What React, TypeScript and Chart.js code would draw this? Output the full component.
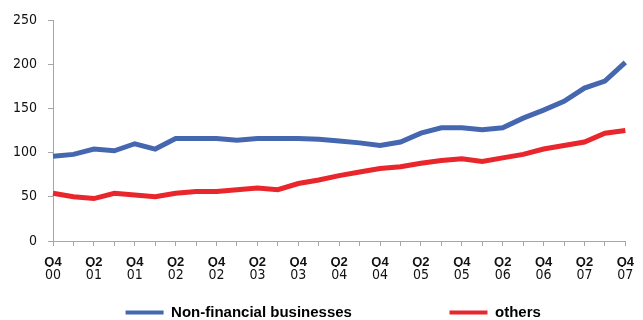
import { useEffect, useRef } from 'react';
import { Chart, registerables } from 'chart.js';
Chart.register(...registerables);

const categories = [
  'Q4 00', 'Q1 01', 'Q2 01', 'Q3 01', 'Q4 01', 'Q1 02', 'Q2 02', 'Q3 02', 'Q4 02',
  'Q1 03', 'Q2 03', 'Q3 03', 'Q4 03', 'Q1 04', 'Q2 04', 'Q3 04', 'Q4 04',
  'Q1 05', 'Q2 05', 'Q3 05', 'Q4 05', 'Q1 06', 'Q2 06', 'Q3 06', 'Q4 06',
  'Q1 07', 'Q2 07', 'Q3 07', 'Q4 07',
];
const nonFinancial = [96, 98, 104, 102, 110, 104, 116, 116, 116, 114, 116, 116, 116, 115, 113, 111, 108, 112, 122, 128, 128, 126, 128, 139, 148, 158, 173, 181, 202];
const others = [54, 50, 48, 54, 52, 50, 54, 56, 56, 58, 60, 58, 65, 69, 74, 78, 82, 84, 88, 91, 93, 90, 94, 98, 104, 108, 112, 122, 125];
const seriesNames = ['Non-financial businesses', 'others'];
const yTicks = [0, 50, 100, 150, 200, 250];

const BLUE = '#4467B0';
const RED = '#E8262B';
const GRAY = '#A6A6A6';
const COND = '"DejaVu Sans Condensed", "Liberation Sans Narrow", sans-serif';
const BOLD = '"Liberation Sans", Arial, sans-serif';

export default function App() {
  const ref = useRef<HTMLCanvasElement | null>(null);
  useEffect(() => {
    if (!ref.current) return;
    const chart = new Chart(ref.current, {
      type: 'line',
      data: {
        labels: categories,
        datasets: [
          { label: seriesNames[0], data: nonFinancial, borderColor: BLUE, backgroundColor: BLUE, borderWidth: 5, pointRadius: 0, tension: 0, xAxisID: 'x' },
          { label: seriesNames[1], data: others, borderColor: RED, backgroundColor: RED, borderWidth: 5, pointRadius: 0, tension: 0, xAxisID: 'x' },
        ],
      },
      options: {
        animation: false,
        responsive: false,
        maintainAspectRatio: false,
        devicePixelRatio: 1,
        layout: { padding: { top: 20, right: 13, left: 0, bottom: 0 } },
        plugins: {
          tooltip: { enabled: false },
          legend: {
            position: 'bottom',
            align: 'end',
            labels: {
              boxWidth: 38,
              boxHeight: 4,
              padding: 10,
              color: '#111',
              font: { family: BOLD, size: 15, weight: 'bold' },
              generateLabels: (ch: any) =>
                ch.data.datasets.map((ds: any, i: number) => ({
                  text: ds.label + '\u00A0'.repeat(i === 0 ? 21 : 19),
                  fillStyle: ds.borderColor,
                  strokeStyle: ds.borderColor,
                  lineWidth: 0,
                  hidden: false,
                  datasetIndex: i,
                })),
            },
          },
        },
        scales: {
          x: {
            type: 'category',
            position: 'bottom',
            offset: false,
            afterFit: (s: any) => { s.height = 26; },
            border: { display: true, color: GRAY, width: 1 },
            grid: { display: true, drawOnChartArea: false, drawTicks: true, tickLength: 5, color: GRAY },
            ticks: {
              autoSkip: false,
              maxRotation: 0,
              padding: 9,
              color: '#111',
              font: { family: BOLD, size: 13, weight: 'bold' },
              callback: (_v: any, i: number) => (i % 2 === 0 ? categories[i].split(' ')[0] : ''),
            },
          },
          x2: {
            type: 'category',
            position: 'bottom',
            offset: false,
            afterFit: (s: any) => { s.height = 28; },
            border: { display: false },
            grid: { display: false, drawTicks: false },
            ticks: {
              autoSkip: false,
              maxRotation: 0,
              padding: 0,
              color: '#111',
              font: { family: COND, size: 14 },
              callback: (_v: any, i: number) => (i % 2 === 0 ? categories[i].split(' ')[1] : ''),
            },
          },
          y: {
            min: 0,
            max: 250,
            afterFit: (s: any) => { s.width = 53; },
            afterBuildTicks: (s: any) => { s.ticks = yTicks.map((v) => ({ value: v })); },
            border: { display: true, color: GRAY, width: 1 },
            grid: { display: true, drawOnChartArea: false, drawTicks: true, tickLength: 5, color: GRAY },
            ticks: {
              padding: 11,
              color: '#111',
              font: { family: COND, size: 14 },
            },
          },
        },
      },
    });
    return () => chart.destroy();
  }, []);
  return (
    <div style={{ position: 'absolute', left: 0, top: 0, width: 643, height: 320, overflow: 'hidden' }}>
      <canvas ref={ref} width={643} height={330} style={{ display: 'block' }} />
    </div>
  );
}
